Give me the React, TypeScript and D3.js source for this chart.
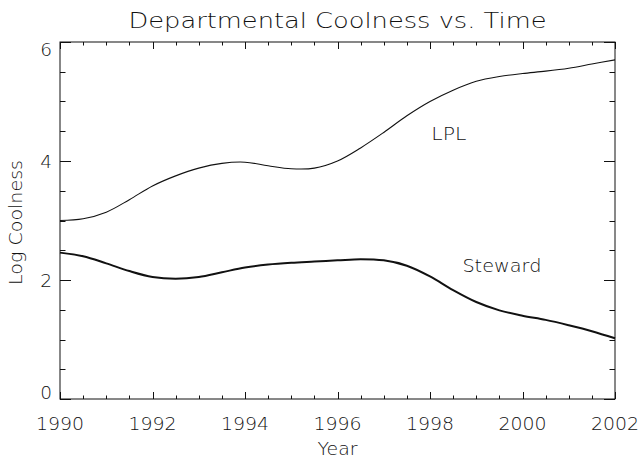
import React, { useEffect, useRef } from 'react';
import * as d3 from 'd3';

// half-year samples
const years = [
  1990, 1990.5, 1991, 1991.5, 1992, 1992.5, 1993, 1993.5, 1994, 1994.5, 1995, 1995.5,
  1996, 1996.5, 1997, 1997.5, 1998, 1998.5, 1999, 1999.5, 2000, 2000.5, 2001, 2001.5, 2002,
];
const lplValues = [
  3.0, 3.03, 3.14, 3.35, 3.58, 3.75, 3.88, 3.96, 3.98, 3.92, 3.87, 3.88,
  4.0, 4.22, 4.48, 4.76, 5.0, 5.19, 5.34, 5.42, 5.47, 5.51, 5.56, 5.63, 5.7,
];
const stewardValues = [
  2.46, 2.4, 2.28, 2.15, 2.05, 2.02, 2.05, 2.13, 2.21, 2.26, 2.29, 2.31,
  2.33, 2.35, 2.33, 2.24, 2.06, 1.83, 1.63, 1.49, 1.4, 1.33, 1.24, 1.14, 1.02,
];
const xMajorTicks = [1990, 1992, 1994, 1996, 1998, 2000, 2002];
const yMajorTicks = [0, 2, 4, 6];
const labels: [string, number, number][] = [
  ['LPL', 1998.03, 4.35],
  ['Steward', 1998.7, 2.13],
];

const W = 641;
const H = 458;
const FONT = '"DejaVu Sans", sans-serif';

export default function App() {
  const ref = useRef<SVGSVGElement>(null);

  useEffect(() => {
    if (!ref.current) return;
    const svg = d3.select(ref.current);
    svg.selectAll('*').remove();

    const margin = { top: 42, right: 26, bottom: 59, left: 60 };
    const x0 = margin.left;
    const x1 = W - margin.right;
    const y0 = H - margin.bottom;
    const y1 = margin.top;

    const x = d3.scaleLinear().domain([1990, 2002]).range([x0, x1]);
    const y = d3.scaleLinear().domain([0, 6]).range([y0, y1]);

    svg.append('rect').attr('width', W).attr('height', H).attr('fill', '#fff');

    const ink = '#111';

    // frame
    svg
      .append('rect')
      .attr('x', x0)
      .attr('y', y1)
      .attr('width', x1 - x0)
      .attr('height', y0 - y1)
      .attr('fill', 'none')
      .attr('stroke', ink)
      .attr('stroke-width', 1);

    // x ticks, bottom and top, pointing inward
    const xTicks = d3.range(1990, 2002.01, 0.5);
    const ticks = svg.append('g').attr('stroke', ink).attr('stroke-width', 1);
    xTicks.forEach(t => {
      const len = xMajorTicks.includes(t) ? 7 : 3.5;
      const px = Math.round(x(t)) + 0.5;
      ticks.append('line').attr('x1', px).attr('x2', px).attr('y1', y0).attr('y2', y0 - len);
      ticks.append('line').attr('x1', px).attr('x2', px).attr('y1', y1).attr('y2', y1 + len);
    });
    const yTicks = d3.range(0, 6.01, 0.5);
    yTicks.forEach(t => {
      const len = yMajorTicks.includes(t) ? 11 : 5.5;
      const py = Math.round(y(t)) + 0.5;
      ticks.append('line').attr('x1', x0).attr('x2', x0 + len).attr('y1', py).attr('y2', py);
      ticks.append('line').attr('x1', x1).attr('x2', x1 - len).attr('y1', py).attr('y2', py);
    });

    const text = svg
      .append('g')
      .attr('font-family', FONT)
      .attr('font-weight', 200)
      .attr('fill', ink);

    xMajorTicks.forEach(t => {
      text
        .append('text')
        .attr('x', x(t))
        .attr('y', 430)
        .attr('text-anchor', 'middle')
        .attr('font-size', 18.5)
        .attr('textLength', 48)
        .attr('lengthAdjust', 'spacingAndGlyphs')
        .text(String(t));
    });

    yMajorTicks.forEach(t => {
      const cy = Math.min(Math.max(y(t), y1 + 7), y0 - 7);
      text
        .append('text')
        .attr('x', x0 - 8)
        .attr('y', cy + 7)
        .attr('text-anchor', 'end')
        .attr('font-size', 18.5)
        .text(String(t));
    });

    text
      .append('text')
      .attr('x', (x0 + x1) / 2)
      .attr('y', 28)
      .attr('text-anchor', 'middle')
      .attr('font-size', 20.5)
      .attr('textLength', 418)
      .attr('lengthAdjust', 'spacingAndGlyphs')
      .text('Departmental Coolness vs. Time');

    text
      .append('text')
      .attr('x', (x0 + x1) / 2)
      .attr('y', 455)
      .attr('text-anchor', 'middle')
      .attr('font-size', 17)
      .attr('textLength', 40)
      .attr('lengthAdjust', 'spacingAndGlyphs')
      .text('Year');

    text
      .append('text')
      .attr('transform', `translate(22,${(y0 + y1) / 2 + 2}) rotate(-90)`)
      .attr('text-anchor', 'middle')
      .attr('font-size', 17)
      .attr('textLength', 125)
      .attr('lengthAdjust', 'spacingAndGlyphs')
      .text('Log Coolness');

    labels.forEach(([name, lx, ly]) => {
      text
        .append('text')
        .attr('x', x(lx))
        .attr('y', y(ly))
        .attr('font-size', 17)
        .attr('textLength', name === 'LPL' ? 35 : 79)
        .attr('lengthAdjust', 'spacingAndGlyphs')
        .text(name);
    });

    const line = d3
      .line<number>()
      .x((_, i) => x(years[i]))
      .y(d => y(d))
      .curve(d3.curveCatmullRom.alpha(0.5));

    svg
      .append('path')
      .datum(lplValues)
      .attr('fill', 'none')
      .attr('stroke', ink)
      .attr('stroke-width', 1.1)
      .attr('d', line);

    svg
      .append('path')
      .datum(stewardValues)
      .attr('fill', 'none')
      .attr('stroke', ink)
      .attr('stroke-width', 2)
      .attr('d', line);
  }, []);

  return (
    <svg
      ref={ref}
      width={W}
      height={H}
      style={{ position: 'absolute', left: 0, top: 0, display: 'block' }}
    />
  );
}
